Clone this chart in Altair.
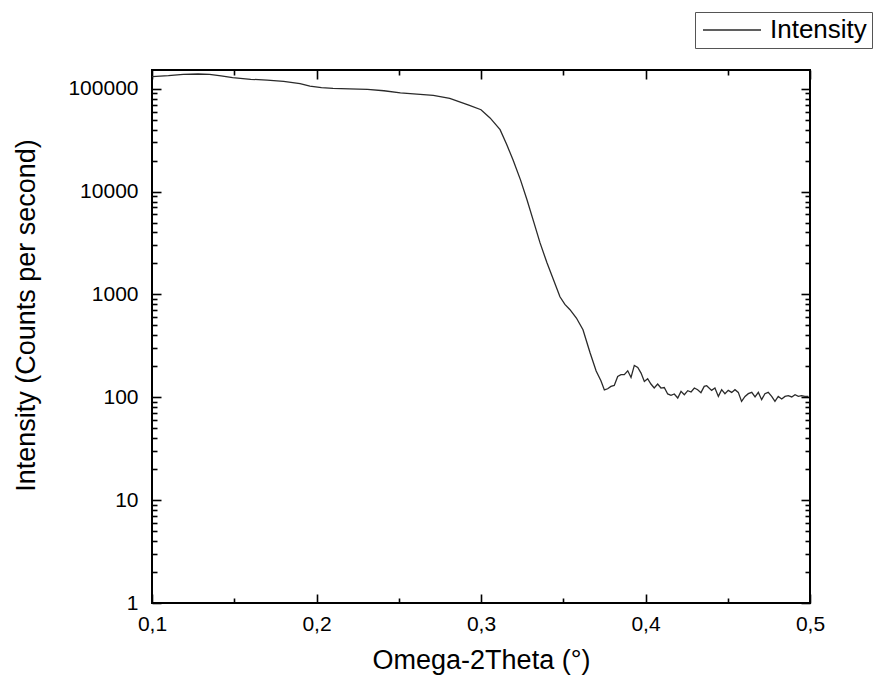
import altair as alt
import pandas as pd

# Omega-2Theta (degrees)
x_vals = [0.100, 0.110, 0.119, 0.128, 0.135, 0.142, 0.149, 0.160, 0.170, 0.180,
          0.190, 0.196, 0.203, 0.210, 0.220, 0.231, 0.241, 0.251, 0.261, 0.271,
          0.281, 0.287, 0.293, 0.300, 0.3055, 0.3116, 0.3155, 0.3195, 0.324, 0.328,
          0.332, 0.3359, 0.3401, 0.344, 0.348, 0.351, 0.3541, 0.358, 0.362, 0.3663,
          0.370, 0.3729, 0.3750, 0.3770, 0.3790, 0.3810, 0.3831, 0.3851, 0.3871, 0.3892,
          0.3912, 0.3932, 0.3953, 0.3973, 0.3993, 0.4013, 0.4033, 0.4053, 0.4074, 0.4094,
          0.4114, 0.4135, 0.4155, 0.4175, 0.4196, 0.4216, 0.4236, 0.4257, 0.4277, 0.4297,
          0.4317, 0.4337, 0.4357, 0.4372, 0.4402, 0.4422, 0.4443, 0.4463, 0.4483, 0.4503,
          0.4524, 0.4544, 0.4564, 0.4584, 0.4605, 0.4625, 0.4646, 0.4666, 0.4686, 0.4706,
          0.4726, 0.4746, 0.4767, 0.4787, 0.4807, 0.4828, 0.4848, 0.4868, 0.4889, 0.4909,
          0.4929, 0.4949, 0.4969, 0.4990]
# Intensity (counts per second)
y_vals = [131000, 134000, 138000, 139000, 138000, 133000, 128000, 123500, 121000, 118000,
          112000, 106000, 102500, 100700, 99800, 98500, 95500, 91200, 88500, 86000,
          80500, 74600, 69000, 62500, 52000, 40000, 29000, 20300, 13000, 8290,
          5100, 3170, 2030, 1400, 948, 800, 710, 590, 453, 271,
          180, 145, 118, 121, 127.6, 130.5, 159.6, 166, 166, 181,
          156, 204, 195, 172, 142.7, 151.6, 134.6, 123, 134.6, 123,
          124.5, 107.7, 104.3, 107.7, 98.4, 114.1, 106, 115.9, 112.6, 123,
          118.5, 111, 127.6, 129.6, 116.7, 123, 102, 118.5, 108.4, 116.7,
          111.6, 118.5, 111.6, 91.2, 102, 108.4, 111.6, 100.7, 111.6, 94.8,
          108.4, 111.6, 102, 91.2, 102, 96.3, 102, 103.6, 100.7, 106,
          102, 103.6, 102, 102]

x_major = [0.1, 0.2, 0.3, 0.4, 0.5]
x_minor = [0.15, 0.25, 0.35, 0.45]
y_major = [1, 10, 100, 1000, 10000, 100000]
y_minor = [2, 3, 4, 5, 6, 7, 8, 9,
           20, 30, 40, 50, 60, 70, 80, 90,
           200, 300, 400, 500, 600, 700, 800, 900,
           2000, 3000, 4000, 5000, 6000, 7000, 8000, 9000,
           20000, 30000, 40000, 50000, 60000, 70000, 80000, 90000]

df = pd.DataFrame({"x": x_vals, "y": y_vals, "series": "Intensity"})

FONT = "Liberation Sans"
xs = alt.Scale(domain=[0.1, 0.5], nice=False, zero=False)
ys = alt.Scale(type="log", domain=[1, 152000], nice=False)

base = alt.Chart(df)

main = base.mark_line(strokeWidth=1.3, interpolate="linear").encode(
    x=alt.X("x:Q", scale=xs, axis=alt.Axis(
        title="Omega-2Theta (°)", values=x_major,
        labelExpr="replace(format(datum.value, '.1f'), '.', ',')",
        ticks=False, domain=False, grid=False,
        labelFontSize=21, titleFontSize=27, labelPadding=10, titlePadding=13,
        labelColor="black", titleColor="black", labelFont=FONT, titleFont=FONT,
        titleFontWeight="normal", labelFlush=False)),
    y=alt.Y("y:Q", scale=ys, axis=alt.Axis(
        title="Intensity (Counts per second)", values=y_major, format="d",
        ticks=False, domain=False, grid=False,
        labelFontSize=21, titleFontSize=27, labelPadding=14, titlePadding=27,
        titleY=245,
        labelColor="black", titleColor="black", labelFont=FONT, titleFont=FONT,
        titleFontWeight="normal", labelFlush=False)),
    color=alt.Color("series:N", scale=alt.Scale(range=["#2a2a2a"]), legend=alt.Legend(
        title=None, orient="none", legendX=543, legendY=-58,
        symbolType="M-1,0H4.8", symbolSize=400, symbolStrokeWidth=1.3,
        labelFontSize=26, labelFont=FONT, labelColor="black", labelOffset=44,
        strokeColor="#555", fillColor="white", padding=5, cornerRadius=0)),
)


def tick_layer(xorient, yorient, xvals, yvals, size):
    return base.mark_line(strokeOpacity=0).encode(
        x=alt.X("x:Q", scale=xs, axis=alt.Axis(
            orient=xorient, values=xvals, labels=False, domain=False, grid=False,
            title=None, ticks=True, tickSize=size, offset=-size,
            tickColor="black", tickWidth=1.6)),
        y=alt.Y("y:Q", scale=ys, axis=alt.Axis(
            orient=yorient, values=yvals, labels=False, domain=False, grid=False,
            title=None, ticks=True, tickSize=size, offset=-size,
            tickColor="black", tickWidth=1.6)),
    )


layers = [
    main,
    tick_layer("bottom", "left", x_major, y_major, 9),
    tick_layer("top", "right", x_major, y_major, 9),
    tick_layer("bottom", "left", x_minor, y_minor, 5),
    tick_layer("top", "right", x_minor, y_minor, 5),
]

chart = alt.layer(*layers).resolve_axis(
    x="independent", y="independent"
).properties(
    width=658, height=533,
    padding={"left": 152, "top": 70, "right": 66, "bottom": 79},
    autosize=alt.AutoSizeParams(type="none"),
    background="white",
).configure_view(
    stroke="black", strokeWidth=2
)

chart.save("out.html", embed_options={"renderer": "svg", "actions": False})
